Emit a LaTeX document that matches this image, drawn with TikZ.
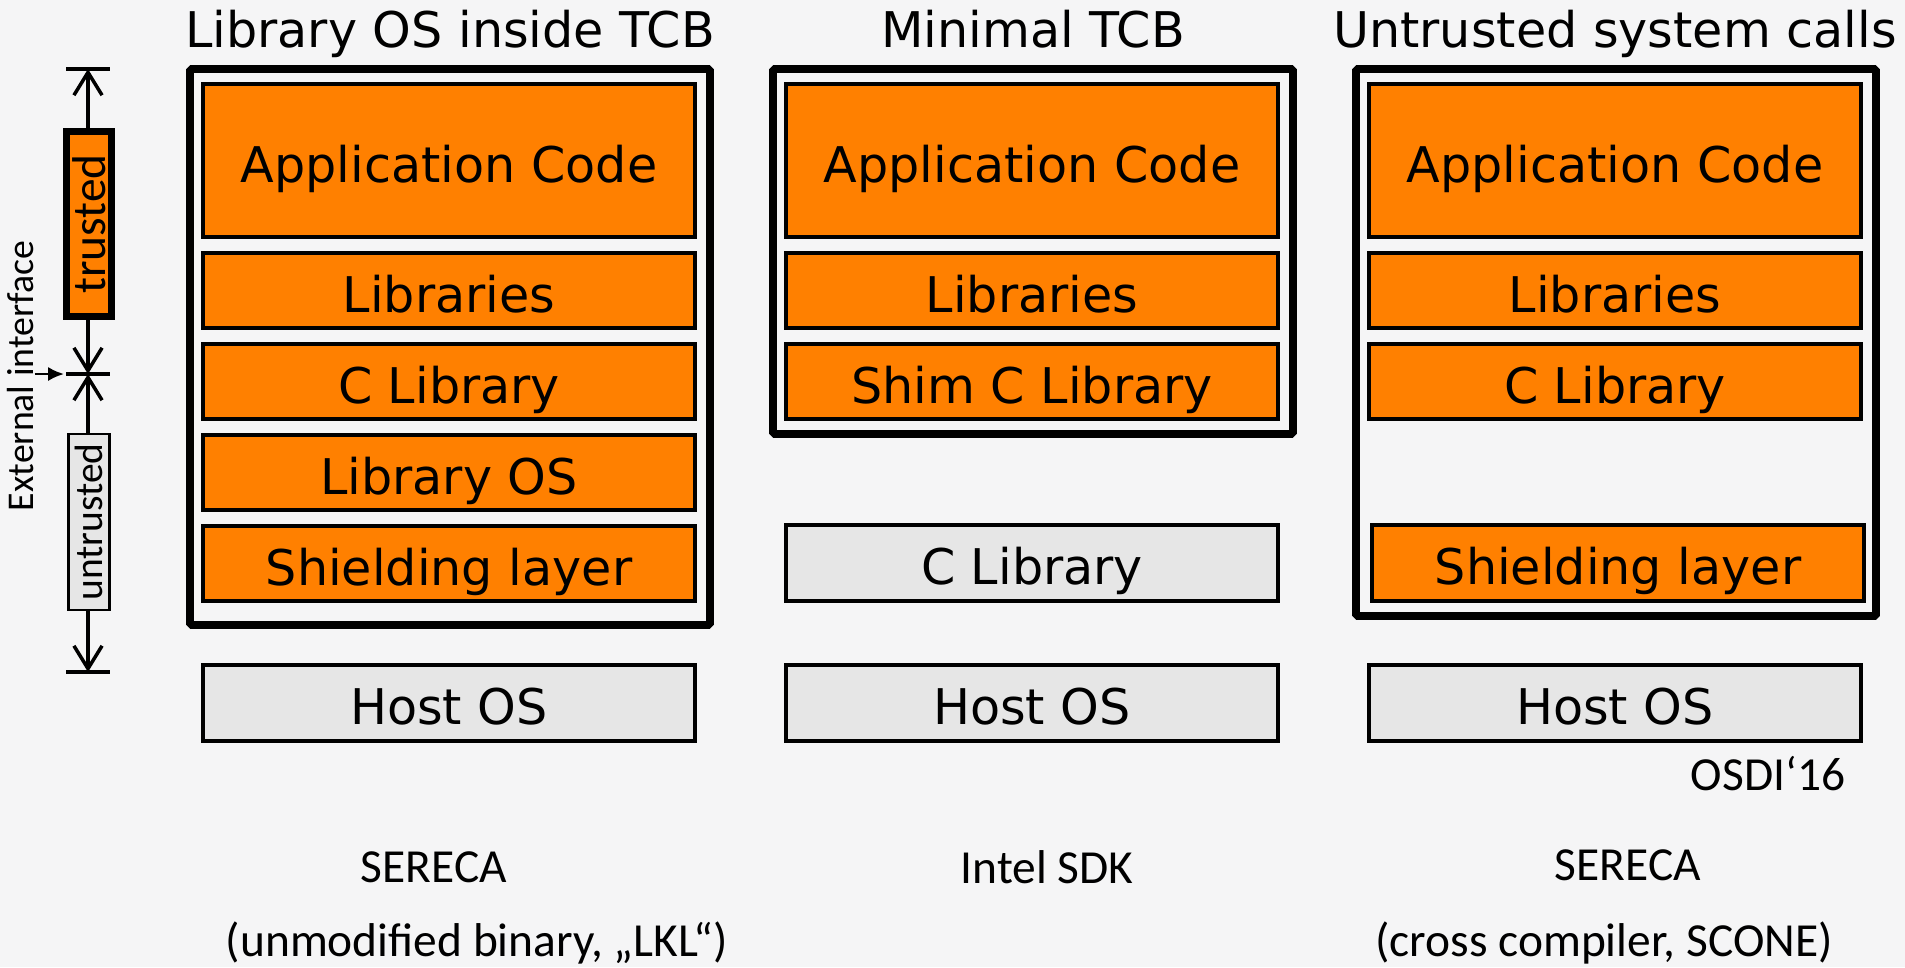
\documentclass[tikz,border=0pt]{standalone}
\usepackage{fontspec}
\setmainfont{DejaVu Sans}
\newfontfamily\calibri{Carlito}
\usetikzlibrary{arrows.meta}

\definecolor{layerorange}{RGB}{255,128,0}
\definecolor{hostgray}{RGB}{230,230,230}
\definecolor{slidebg}{RGB}{245,245,246}

\tikzset{
	title/.style={anchor=base, inner sep=0pt, font=\fontsize{28}{30}\selectfont},
	layer/.style={draw, line width=2pt, fill=layerorange, minimum width=9.84cm, inner sep=0pt,
		text height=28pt, text depth=3pt, font=\fontsize{28}{30}\selectfont},
	hostlayer/.style={layer, fill=hostgray},
	frame/.style={line width=4.4pt, rounded corners=1pt},
	note/.style={inner sep=0pt, font=\calibri\fontsize{27}{28}\selectfont},
	dim/.style={line width=2pt, {Straight Barb[length=13pt,width=16pt]}-{Straight Barb[length=13pt,width=16pt]}},
	trustbox/.style={draw, line width=4.4pt, fill=layerorange, rotate=90, minimum width=3.7cm,
		minimum height=0.9cm, inner sep=0pt, font=\calibri\fontsize{27}{27}\selectfont},
	untrustbox/.style={trustbox, line width=1.4pt, fill=hostgray, minimum width=3.52cm, minimum height=0.82cm,
		font=\calibri\fontsize{22.5}{23}\selectfont}
}

\begin{document}
\begin{tikzpicture}[x=0.02cm, y=-0.02cm]
	\useasboundingbox (0,0) rectangle (1905,967);
	\fill[slidebg] (0,0) rectangle (1905,967);

	% titles
	\node[title] (title1) at (450,47) {Library OS inside TCB};
	\node[title] (title2) at (1033,47) {Minimal TCB};
	\node[title] (title3) at (1615,47) {Untrusted system calls};

	% library OS inside TCB
	\draw[frame] (190,69) rectangle (710,625);
	\node[layer, minimum height=3.06cm] (app1) at (449,160.5) {Application Code};
	\node[layer, minimum height=1.5cm] (lib1) at (449,290.5) {Libraries};
	\node[layer, minimum height=1.5cm] (clib1) at (449,381.5) {C Library};
	\node[layer, minimum height=1.5cm] (libos1) at (449,472.5) {Library OS};
	\node[layer, minimum height=1.5cm] (shield1) at (449,563.5) {Shielding layer};
	\node[hostlayer, minimum height=1.52cm] (host1) at (449,703) {Host OS};

	% minimal TCB
	\draw[frame] (773,69) rectangle (1293,434);
	\node[layer, minimum height=3.06cm] (app2) at (1032,160.5) {Application Code};
	\node[layer, minimum height=1.5cm] (lib2) at (1032,290.5) {Libraries};
	\node[layer, minimum height=1.5cm] (shim2) at (1032,381.5) {Shim C Library};
	\node[hostlayer, minimum height=1.52cm] (clib2) at (1032,563) {C Library};
	\node[hostlayer, minimum height=1.52cm] (host2) at (1032,703) {Host OS};

	% untrusted system calls
	\draw[frame] (1356,69) rectangle (1876,616);
	\node[layer, minimum height=3.06cm] (app3) at (1615,160.5) {Application Code};
	\node[layer, minimum height=1.5cm] (lib3) at (1615,290.5) {Libraries};
	\node[layer, minimum height=1.5cm] (clib3) at (1615,381.5) {C Library};
	\node[layer, minimum height=1.52cm] (shield3) at (1618,563) {Shielding layer};
	\node[hostlayer, minimum height=1.52cm] (host3) at (1615,703) {Host OS};

	% legend
	\coordinate (legtop) at (88,69);
	\coordinate (legmid) at (88,374);
	\coordinate (legbot) at (88,672);
	\draw[dim] (legtop) -- (legmid);
	\draw[dim] (legmid) -- (legbot);
	\foreach \c in {legtop,legmid,legbot}
		\draw[line width=2.4pt] ([xshift=-0.44cm]\c) -- ([xshift=0.44cm]\c);
	\node[trustbox] (trusted) at (89,224) {trusted};
	\node[untrustbox] (untrusted) at (89,522) {untrusted};
	\node[inner sep=0pt, rotate=90, font=\calibri\fontsize{21.5}{22}\selectfont] (ext) at (21,376) {External interface};
	\coordinate (extTip) at (64,374);
	\draw[line width=1.4pt, -{Latex[length=9pt,width=8pt]}] (ext.south |- extTip) -- (extTip);

	% notes
	\node[note] (osdi) at (1768,774) {OSDI‘16};
	\node[note] (sereca1) at (434,867) {SERECA};
	\node[note] (lkl) at (477,943) {(unmodified binary, „LKL“)};
	\node[note] (sdk) at (1047,867) {Intel SDK};
	\node[note] (sereca3) at (1628,865) {SERECA};
	\node[note] (scone) at (1604,943) {(cross compiler, SCONE)};
\end{tikzpicture}
\end{document}
